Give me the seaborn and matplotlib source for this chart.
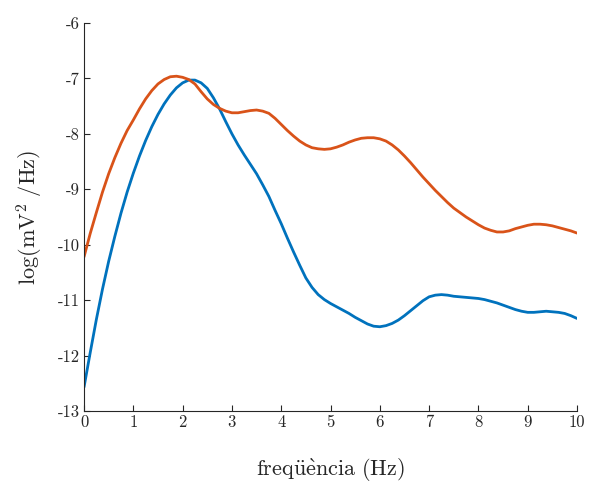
import numpy as np
import pandas as pd
import matplotlib
matplotlib.use("Agg")
import matplotlib.pyplot as plt
import seaborn as sns

# Frequency grid (Hz), 0.125 Hz spacing
freq = [0.0, 0.125, 0.25, 0.375, 0.5, 0.625, 0.75, 0.875,
        1.0, 1.125, 1.25, 1.375, 1.5, 1.625, 1.75, 1.875,
        2.0, 2.125, 2.25, 2.375, 2.5, 2.625, 2.75, 2.875,
        3.0, 3.125, 3.25, 3.375, 3.5, 3.625, 3.75, 3.875,
        4.0, 4.125, 4.25, 4.375, 4.5, 4.625, 4.75, 4.875,
        5.0, 5.125, 5.25, 5.375, 5.5, 5.625, 5.75, 5.875,
        6.0, 6.125, 6.25, 6.375, 6.5, 6.625, 6.75, 6.875,
        7.0, 7.125, 7.25, 7.375, 7.5, 7.625, 7.75, 7.875,
        8.0, 8.125, 8.25, 8.375, 8.5, 8.625, 8.75, 8.875,
        9.0, 9.125, 9.25, 9.375, 9.5, 9.625, 9.75, 9.875,
        10.0]

# Log power spectral density, first signal
psd_blue = [-12.57, -11.95, -11.35, -10.80, -10.30, -9.85, -9.43, -9.05,
            -8.71, -8.40, -8.12, -7.87, -7.65, -7.46, -7.30, -7.17,
            -7.08, -7.03, -7.03, -7.08, -7.18, -7.35, -7.55, -7.78,
            -8.00, -8.20, -8.38, -8.55, -8.72, -8.92, -9.13, -9.38,
            -9.62, -9.88, -10.13, -10.37, -10.60, -10.77, -10.90, -10.99,
            -11.06, -11.12, -11.18, -11.24, -11.31, -11.37, -11.43, -11.47,
            -11.48, -11.46, -11.42, -11.36, -11.28, -11.19, -11.10, -11.01,
            -10.94, -10.91, -10.90, -10.91, -10.93, -10.94, -10.95, -10.96,
            -10.97, -10.99, -11.02, -11.05, -11.09, -11.13, -11.17, -11.20,
            -11.22, -11.22, -11.21, -11.20, -11.21, -11.22, -11.24, -11.28,
            -11.33]

# Log power spectral density, second signal
psd_orange = [-10.22, -9.80, -9.42, -9.05, -8.72, -8.43, -8.17, -7.94,
              -7.75, -7.55, -7.37, -7.22, -7.10, -7.02, -6.97, -6.96,
              -6.98, -7.02, -7.10, -7.24, -7.37, -7.47, -7.54, -7.59,
              -7.62, -7.62, -7.60, -7.58, -7.57, -7.59, -7.63, -7.72,
              -7.83, -7.94, -8.04, -8.13, -8.20, -8.25, -8.27, -8.28,
              -8.27, -8.24, -8.20, -8.15, -8.11, -8.08, -8.07, -8.07,
              -8.09, -8.13, -8.20, -8.29, -8.40, -8.52, -8.65, -8.78,
              -8.90, -9.02, -9.13, -9.24, -9.34, -9.42, -9.50, -9.57,
              -9.64, -9.70, -9.74, -9.77, -9.77, -9.75, -9.71, -9.68,
              -9.65, -9.63, -9.63, -9.64, -9.66, -9.69, -9.72, -9.75,
              -9.79]

x_ticks = list(range(0, 11))
y_ticks = list(range(-13, -5))

series_names = ["A", "B"]
colors = ["#0072BD", "#D95319"]

df = pd.DataFrame({
    "freq": freq * 2,
    "psd": psd_blue + psd_orange,
    "series": [series_names[0]] * len(freq) + [series_names[1]] * len(freq),
})

sns.set_style("ticks")
plt.rcParams["font.family"] = ["cmr10", "DejaVu Serif"]
plt.rcParams["mathtext.fontset"] = "cm"
plt.rcParams["axes.unicode_minus"] = False
plt.rcParams["axes.formatter.use_mathtext"] = False

fig = plt.figure(figsize=(5.9, 4.86), dpi=100)
ax = fig.add_axes([0.1424, 0.1543, 0.8356, 0.7984])

sns.lineplot(data=df, x="freq", y="psd", hue="series",
             palette=dict(zip(series_names, colors)),
             linewidth=2.0, legend=False, ax=ax, sort=False)

ax.set_xlim(0, 10)
ax.set_ylim(-13, -6)
ax.set_xticks(x_ticks)
ax.set_yticks(y_ticks)
ax.set_xticklabels([str(t) for t in x_ticks])
ax.set_yticklabels([str(t) for t in y_ticks])

axis_gray = "#262626"
for side in ["top", "right"]:
    ax.spines[side].set_visible(False)
for side in ["left", "bottom"]:
    ax.spines[side].set_color(axis_gray)
    ax.spines[side].set_linewidth(0.8)

ax.tick_params(direction="in", length=4, width=0.8, colors=axis_gray,
               labelsize=12, pad=3)
for lbl in ax.get_xticklabels() + ax.get_yticklabels():
    lbl.set_color(axis_gray)

ax.set_xlabel(r"$\mathrm{freq\ddot{u}\grave{e}ncia\ (Hz)}$", fontsize=16,
              color=axis_gray, labelpad=19)
ax.set_ylabel(r"$\mathrm{log(mV^{2}\ /Hz)}$", fontsize=16,
              color=axis_gray, labelpad=9)

fig.savefig("out.png", dpi=100)
